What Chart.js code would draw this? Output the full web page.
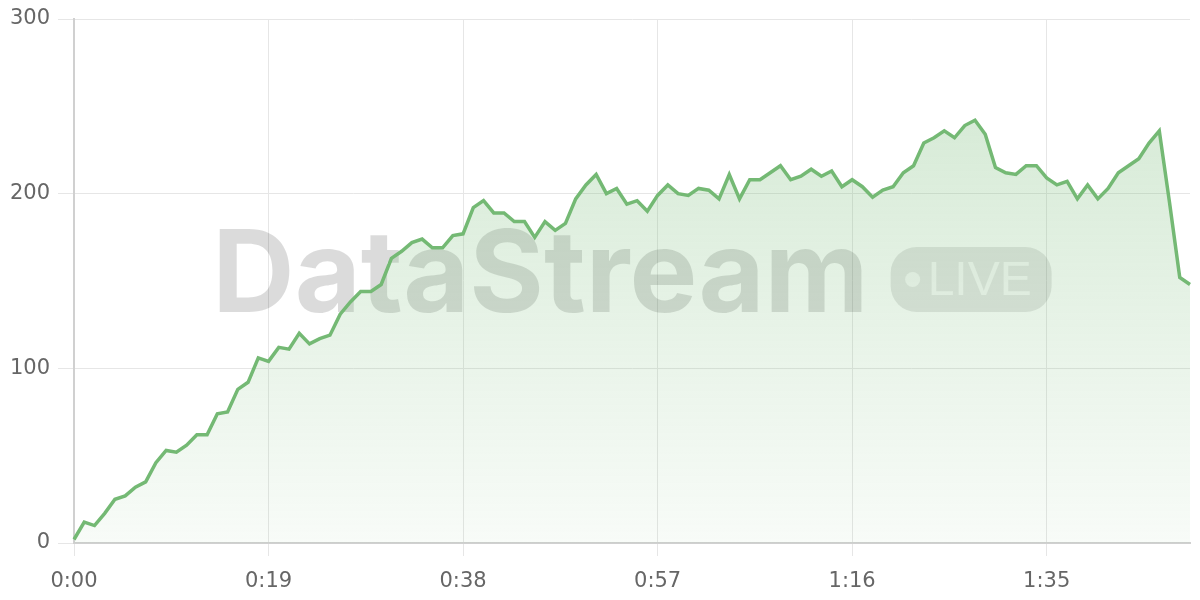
<!DOCTYPE html>
<html>
<head>
<meta charset="utf-8">
<title>DataStream LIVE</title>
<script src="https://cdn.jsdelivr.net/npm/chart.js@4/dist/chart.umd.min.js"></script>
<style>
    html, body { margin: 0; padding: 0; background: #fff; }
    #wrap { width: 1200px; height: 600px; position: relative; }
</style>
</head>
<body>
<div id="wrap"><canvas id="streamChart"></canvas></div>
<script>
// one reading per second, 0:00 .. 1:49
const streamValues = [
    2, 12, 10, 17, 25, 27, 32, 35, 46, 53,
    52, 56, 62, 62, 74, 75, 88, 92, 106, 104,
    112, 111, 120, 114, 117, 119, 131, 138, 144, 144,
    148, 163, 167, 172, 174, 169, 169, 176, 177, 192,
    196, 189, 189, 184, 184, 175, 184, 179, 183, 197,
    205, 211, 200, 203, 194, 196, 190, 199, 205, 200,
    199, 203, 202, 197, 211, 197, 208, 208, 212, 216,
    208, 210, 214, 210, 213, 204, 208, 204, 198, 202,
    204, 212, 216, 229, 232, 236, 232, 239, 242, 234,
    215, 212, 211, 216, 216, 209, 205, 207, 197, 205,
    197, 203, 212, 216, 220, 229, 236, 195, 152, 148
];
const timeLabels = streamValues.map((_, i) => Math.floor(i / 60) + ':' + String(i % 60).padStart(2, '0'));
const yTicks = [0, 100, 200, 300];

const lineColor = 'rgb(116, 185, 116)';
const tickFont = { family: 'DejaVu Sans', size: 21 };

const watermark = {
    id: 'watermark',
    beforeDatasetsDraw(chart) {
        const { ctx, chartArea } = chart;
        const cx = (chartArea.left + chartArea.right) / 2;
        const baseline = (chartArea.top + chartArea.bottom) / 2 + 31;

        ctx.save();
        ctx.font = 'bold 114px Inter';
        const textW = ctx.measureText('DataStream').width;
        const pillW = 161, pillH = 65, gap = 22;
        let x = cx - (textW + gap + pillW) / 2;

        ctx.fillStyle = 'rgba(0, 0, 0, 0.14)';
        ctx.textBaseline = 'alphabetic';
        ctx.fillText('DataStream', x, baseline);

        x += textW + gap;
        const top = baseline - pillH;
        ctx.beginPath();
        ctx.roundRect(x, top, pillW, pillH, 26);
        ctx.fillStyle = 'rgba(0, 0, 0, 0.1)';
        ctx.fill();

        ctx.fillStyle = 'rgba(255, 255, 255, 0.7)';
        ctx.beginPath();
        ctx.arc(x + 22, top + pillH / 2, 7.5, 0, Math.PI * 2);
        ctx.fill();
        ctx.font = '500 48px "Liberation Sans"';
        ctx.textBaseline = 'middle';
        ctx.fillText('LIVE', x + 37, top + pillH / 2 + 2);
        ctx.restore();
    }
};

document.addEventListener('DOMContentLoaded', function () {
    const ctx = document.getElementById('streamChart').getContext('2d');

    new Chart(ctx, {
        type: 'line',
        data: {
            labels: timeLabels,
            datasets: [{
                data: streamValues,
                borderColor: lineColor,
                borderWidth: 3.5,
                pointRadius: 0,
                tension: 0,
                fill: 'origin',
                backgroundColor: function (context) {
                    const area = context.chart.chartArea;
                    if (!area) return 'rgba(116, 185, 116, 0.2)';
                    const g = context.chart.ctx.createLinearGradient(0, area.top, 0, area.bottom);
                    g.addColorStop(0, 'rgba(116, 185, 116, 0.34)');
                    g.addColorStop(1, 'rgba(116, 185, 116, 0.05)');
                    return g;
                }
            }]
        },
        options: {
            responsive: true,
            maintainAspectRatio: false,
            animation: false,
            layout: { padding: { top: 19, right: 10, left: 0, bottom: 0 } },
            plugins: {
                legend: { display: false },
                tooltip: { enabled: false }
            },
            scales: {
                x: {
                    grid: { color: '#e6e6e6', tickLength: 13 },
                    border: { color: '#d0d0d0', width: 2 },
                    ticks: {
                        color: '#666',
                        font: tickFont,
                        maxRotation: 0,
                        autoSkip: true,
                        maxTicksLimit: 6,
                        padding: 13
                    },
                    afterFit(scale) {
                        scale.height = 57;
                        scale.paddingLeft = 0;
                        scale.paddingRight = 0;
                    }
                },
                y: {
                    min: 0,
                    max: 300,
                    afterBuildTicks(scale) {
                        scale.ticks = yTicks.map(v => ({ value: v }));
                    },
                    grid: { color: '#e6e6e6', tickLength: 16 },
                    border: { color: '#d0d0d0', width: 2 },
                    ticks: { color: '#666', font: tickFont, padding: 8 },
                    afterFit(scale) {
                        scale.width = 74;
                        scale.paddingTop = 0;
                        scale.paddingBottom = 0;
                    }
                }
            }
        },
        plugins: [watermark]
    });
});
</script>
</body>
</html>
